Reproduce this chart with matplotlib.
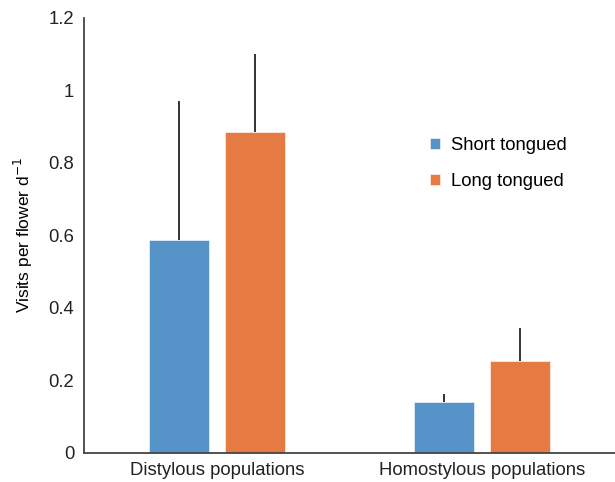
import numpy as np
import matplotlib.pyplot as plt

plt.rcParams['font.family'] = ['Liberation Sans', 'DejaVu Sans']

groups = ["Distylous populations", "Homostylous populations"]
series = ["Short tongued", "Long tongued"]
means = {
    "Short tongued": [0.587, 0.141],
    "Long tongued": [0.885, 0.253],
}
upper_err = {
    "Short tongued": [0.384, 0.020],
    "Long tongued": [0.216, 0.092],
}
colors = {"Short tongued": "#5593c8", "Long tongued": "#e57a42"}

fig = plt.figure(figsize=(6.15, 4.82), dpi=100)
ax = fig.add_axes([0.1366, 0.0608, 0.8634, 0.9019])

x = np.arange(len(groups))
width = 0.225
offsets = [-0.143, 0.143]
for name, off in zip(series, offsets):
    ax.bar(x + off, means[name], width, color=colors[name], label=name,
           edgecolor='white', linewidth=0.4, zorder=2)
    ax.errorbar(x + off, means[name], yerr=[np.zeros(len(groups)), upper_err[name]],
                fmt='none', ecolor='#333333', elinewidth=1.4, capsize=0, zorder=1)

ax.set_xlim(-0.5, 1.5)
ax.set_ylim(0, 1.2)
ax.set_xticks(x)
ax.set_xticklabels(groups, fontsize=13.3)
ax.set_yticks([0, 0.2, 0.4, 0.6, 0.8, 1.0, 1.2])
ax.set_yticklabels(["0", "0.2", "0.4", "0.6", "0.8", "1", "1.2"], fontsize=13.3)
ax.tick_params(length=0, pad=7, colors='#222222')
ax.set_ylabel("Visits per flower d$^{-1}$", fontsize=12.5, labelpad=10)

for side in ['top', 'right']:
    ax.spines[side].set_visible(False)
for side in ['left', 'bottom']:
    ax.spines[side].set_color('#444444')
    ax.spines[side].set_linewidth(1.3)

ax.legend(loc='upper left', bbox_to_anchor=(0.62, 0.765), frameon=False,
          fontsize=13.3, handlelength=0.55, handleheight=0.55, handletextpad=0.6,
          labelspacing=1.05)

fig.savefig("out.png", dpi=100)
